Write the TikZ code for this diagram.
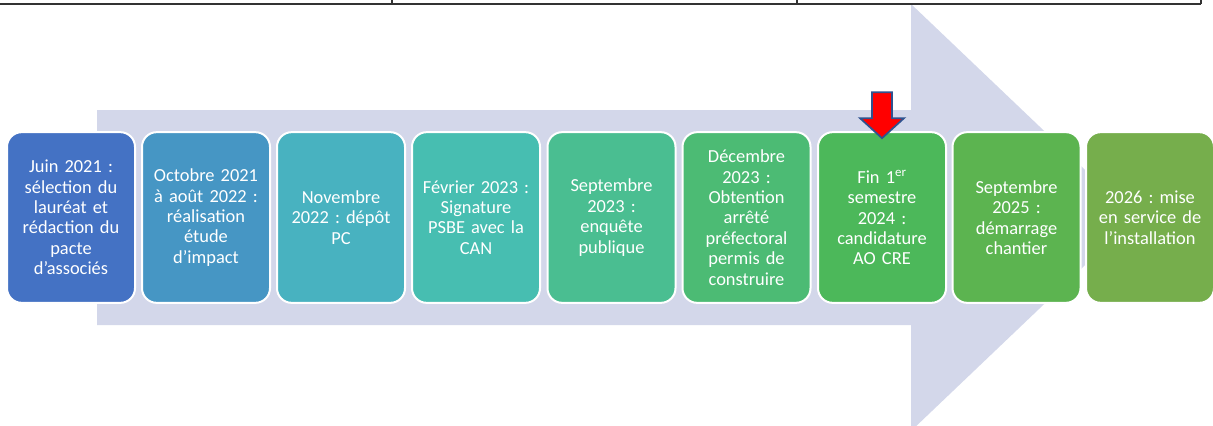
\documentclass[tikz,border=0pt]{standalone}
\usepackage{fontspec}
\setmainfont{Carlito}
\usepackage{xcolor}
\usepackage{tikz}
\usetikzlibrary{
  positioning,
  calc
}
\frenchspacing
\definecolor{bgarrow}{RGB}{211,215,234}
\definecolor{ca}{RGB}{68,114,196}
\definecolor{cb}{RGB}{70,150,196}
\definecolor{cc}{RGB}{72,178,192}
\definecolor{cd}{RGB}{71,190,177}
\definecolor{ce}{RGB}{74,190,145}
\definecolor{cf}{RGB}{76,187,116}
\definecolor{cg}{RGB}{76,184,90}
\definecolor{ch}{RGB}{92,180,80}
\definecolor{ci}{RGB}{118,174,76}
\definecolor{markborder}{RGB}{47,82,143}
\tikzset{
  etape/.style={rectangle,draw=white,line width=1.5pt,rounded corners=11pt,
    minimum width=96pt,minimum height=128pt,text width=92pt,align=center,
    text=white,font=\fontsize{13.8}{15.3}\selectfont,inner sep=0pt},
  bigarrow/.style={fill=bgarrow},
  redmark/.style={fill=red,draw=markborder,line width=1.3pt,line join=miter},
  tableline/.style={draw=black!80,line width=1.5pt}
}
\begin{document}
\begin{tikzpicture}[x=0.75pt,y=-0.75pt]
    \useasboundingbox (0,0) rectangle (1213,425);
    % fleche de fond
    \begin{scope}
        \clip (0,0) rectangle (1213,425);
        \fill[bigarrow] (97,110) -- (911,110) -- (911,4) -- (1135,217.5) -- (911,431) -- (911,325) -- (97,325) -- cycle;
    \end{scope}
    % bord du tableau
    \draw[tableline] (0,3.7) -- (1201,3.7);
    \draw[tableline] (392,0) -- (392,3.7);
    \draw[tableline] (797,0) -- (797,3.7);
    \draw[tableline] (1201,0) -- (1201,3.7);

    \foreach \x/\id/\txt in {
        71/a/{Juin 2021 :\\sélection du\\lauréat et\\rédaction du\\pacte\\d’associés},
        206/b/{Octobre 2021\\à août 2022 :\\réalisation\\étude\\d’impact},
        341/c/{Novembre\\2022 : dépôt\\PC},
        476/d/{Février 2023 :\\Signature\\PSBE avec la\\CAN},
        611.5/e/{Septembre\\2023 :\\enquête\\publique},
        746.5/f/{Décembre\\2023 :\\Obtention\\arrêté\\préfectoral\\permis de\\construire},
        882/g/{Fin 1\textsuperscript{er}\\semestre\\2024 :\\candidature\\AO CRE},
        1016.5/h/{Septembre\\2025 :\\démarrage\\chantier},
        1150/i/{2026 : mise\\en service de\\l’installation}}
        \node[etape,fill=c\id] (e\id) at (\x,217.5) {\txt};

    % etape en cours
    \begin{scope}[shift={(eg.north)}]
        \draw[redmark] (-10,-39) -- (10,-39) -- (10,-13) -- (22,-13) -- (0,7) -- (-22,-13) -- (-10,-13) -- cycle;
    \end{scope}
\end{tikzpicture}
\end{document}
